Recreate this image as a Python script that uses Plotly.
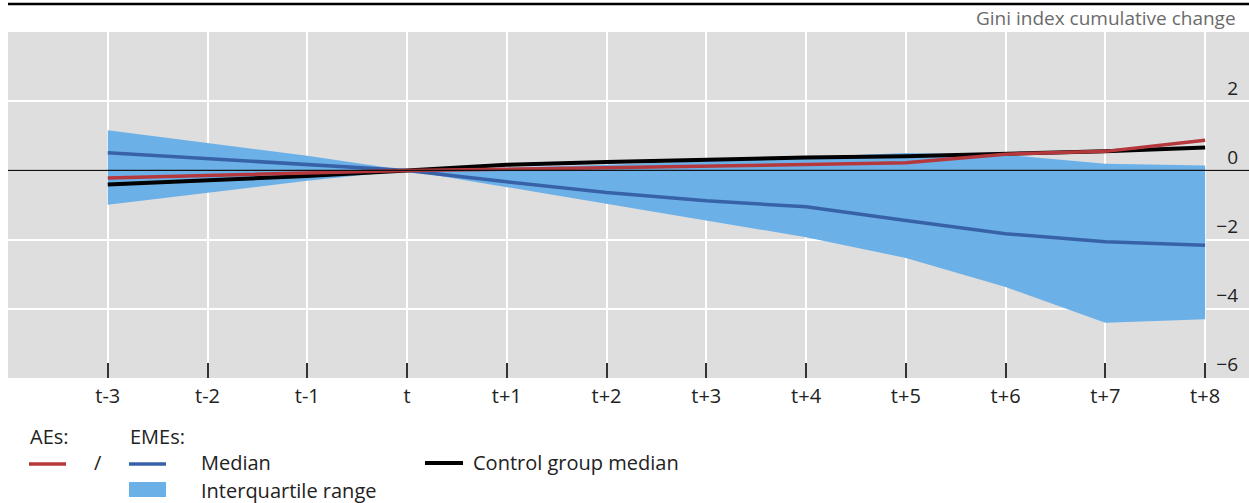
import plotly.graph_objects as go

# ---- data ----
periods = ["t-3", "t-2", "t-1", "t", "t+1", "t+2", "t+3", "t+4", "t+5", "t+6", "t+7", "t+8"]
ae_median = [-0.22, -0.15, -0.08, 0.0, 0.03, 0.07, 0.12, 0.17, 0.22, 0.47, 0.55, 0.87]
eme_median = [0.51, 0.34, 0.16, 0.0, -0.33, -0.64, -0.88, -1.05, -1.45, -1.83, -2.06, -2.16]
eme_iqr_low = [-0.99, -0.65, -0.30, 0.0, -0.48, -0.97, -1.44, -1.93, -2.53, -3.37, -4.40, -4.30]
eme_iqr_high = [1.16, 0.80, 0.42, 0.0, 0.08, 0.16, 0.27, 0.38, 0.50, 0.45, 0.19, 0.14]
control_median = [-0.41, -0.29, -0.16, 0.0, 0.16, 0.24, 0.31, 0.37, 0.41, 0.48, 0.55, 0.66]
y_ticks = [-6, -4, -2, 0, 2]
y_ticktext = ["\u22126", "\u22124", "\u22122", "0", "2"]

RED = "#b5383c"
BLUE = "#3862a8"
BAND = "#6cb0e8"
FONT = "Open Sans"

fig = go.Figure()
fig.add_trace(go.Scatter(x=periods, y=eme_iqr_low, mode="lines", line=dict(width=0, color=BAND),
                         showlegend=False, hoverinfo="skip"))
fig.add_trace(go.Scatter(x=periods, y=eme_iqr_high, mode="lines", line=dict(width=0, color=BAND),
                         fill="tonexty", fillcolor=BAND, showlegend=False, name="Interquartile range"))
fig.add_trace(go.Scatter(x=periods, y=control_median, mode="lines", line=dict(width=4, color="#000000"),
                         showlegend=False, name="Control group median"))
fig.add_trace(go.Scatter(x=periods, y=eme_median, mode="lines", line=dict(width=3.5, color=BLUE),
                         showlegend=False, name="EMEs median"))
fig.add_trace(go.Scatter(x=periods, y=ae_median, mode="lines", line=dict(width=3.5, color=RED),
                         showlegend=False, name="AEs median"))

W, H = 1249, 503
L, R, T, B = 8, 0, 32, 125
PW, PH = W - L - R, H - T - B


def px(x):
    return (x - L) / PW


def py(y):
    return (H - B - y) / PH


shapes = [
    # zero line drawn over the band
    dict(type="line", xref="paper", yref="y", x0=0, x1=1, y0=0, y1=0,
         line=dict(color="#111111", width=1.2), layer="above"),
    # top rule
    dict(type="line", xref="paper", yref="paper", x0=0, x1=1, y0=py(4), y1=py(4),
         line=dict(color="#000000", width=2.5)),
    # legend keys
    dict(type="line", xref="paper", yref="paper", x0=px(29), x1=px(66), y0=py(464), y1=py(464),
         line=dict(color=RED, width=3.5)),
    dict(type="line", xref="paper", yref="paper", x0=px(129), x1=px(166), y0=py(464), y1=py(464),
         line=dict(color=BLUE, width=3.5)),
    dict(type="line", xref="paper", yref="paper", x0=px(425), x1=px(463), y0=py(463), y1=py(463),
         line=dict(color="#000000", width=4)),
    dict(type="rect", xref="paper", yref="paper", x0=px(129), x1=px(166), y0=py(497), y1=py(482),
         line=dict(width=0), fillcolor=BAND),
]

tf = dict(family=FONT, size=20, color="#222222")
annotations = [
    dict(text="Gini index cumulative change", xref="paper", yref="paper", x=px(1238), y=py(18),
         xanchor="right", yanchor="middle", showarrow=False,
         font=dict(family=FONT, size=19, color="#6b6b6b")),
    dict(text="AEs:", xref="paper", yref="paper", x=px(28), y=py(436), xanchor="left", yanchor="middle",
         showarrow=False, font=tf),
    dict(text="EMEs:", xref="paper", yref="paper", x=px(128), y=py(436), xanchor="left", yanchor="middle",
         showarrow=False, font=tf),
    dict(text="/", xref="paper", yref="paper", x=px(98), y=py(463), xanchor="center", yanchor="middle",
         showarrow=False, font=tf),
    dict(text="Median", xref="paper", yref="paper", x=px(199), y=py(463), xanchor="left", yanchor="middle",
         showarrow=False, font=tf),
    dict(text="Control group median", xref="paper", yref="paper", x=px(471), y=py(463), xanchor="left",
         yanchor="middle", showarrow=False, font=tf),
    dict(text="Interquartile range", xref="paper", yref="paper", x=px(199), y=py(490), xanchor="left",
         yanchor="middle", showarrow=False, font=tf),
]

fig.update_layout(
    width=W, height=H,
    margin=dict(l=L, r=R, t=T, b=B, pad=0),
    paper_bgcolor="white", plot_bgcolor="#dedede",
    font=dict(family=FONT, size=20, color="#222222"),
    showlegend=False,
    shapes=shapes, annotations=annotations,
    xaxis=dict(type="category", range=[-1, 11.44], showgrid=True, gridcolor="white", gridwidth=2,
               ticks="inside", ticklen=15, tickwidth=2, tickcolor="#333333", showline=False,
               zeroline=False, tickfont=tf, ticklabelstandoff=4, fixedrange=True),
    yaxis=dict(range=[-6, 4], side="right", tickvals=y_ticks, ticktext=y_ticktext,
               ticklabelposition="inside top", showgrid=True, gridcolor="white", gridwidth=2,
               zeroline=False, showline=False, ticks="", tickfont=dict(family=FONT, size=19, color="#222222"),
               ticklabelstandoff=8, fixedrange=True),
)

fig.write_html("out.html")
